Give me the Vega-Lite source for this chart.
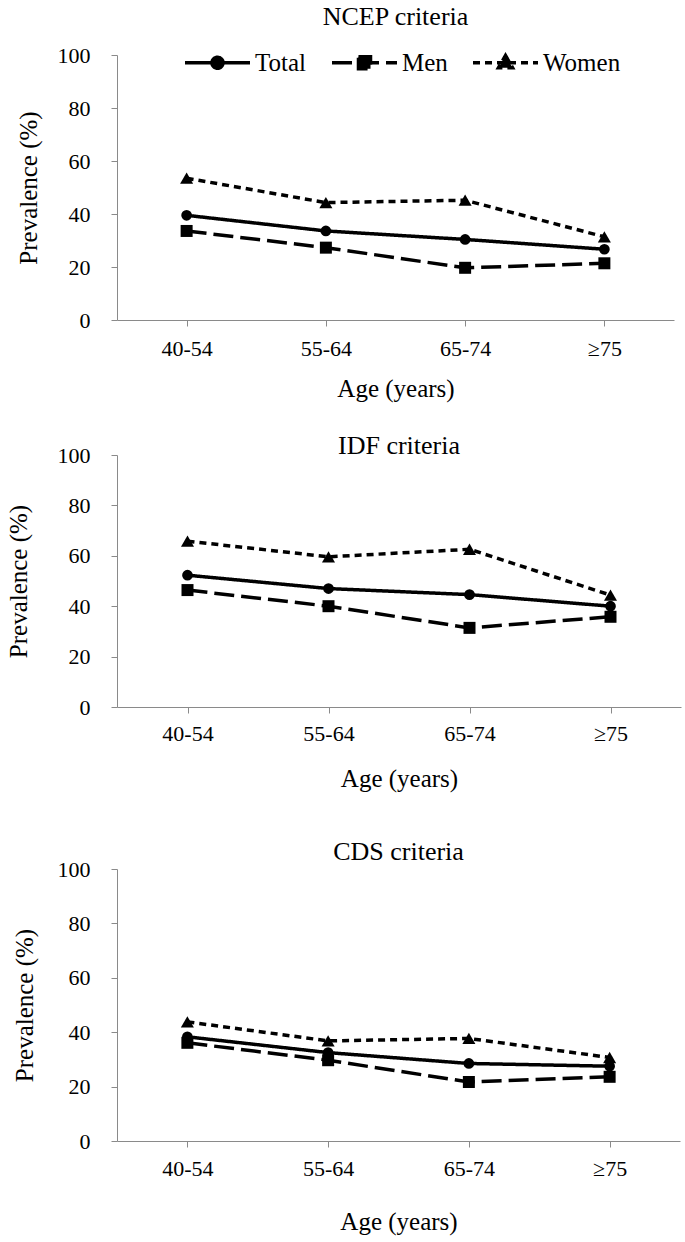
{
  "$schema": "https://vega.github.io/schema/vega-lite/v6.json",
  "padding": {"left": 6, "top": 4, "right": 6, "bottom": 4},
  "background": "white",
  "config": {
    "font": "Liberation Serif",
    "view": {"stroke": null},
    "axis": {"labelFont": "Liberation Serif", "titleFont": "Liberation Serif", "labelColor": "#000", "titleColor": "#000", "titleFontWeight": "normal", "domainColor": "#8a8a8a", "tickColor": "#8a8a8a", "grid": false, "labelFontSize": 22, "titleFontSize": 25},
    "legend": {"labelFont": "Liberation Serif", "titleFont": "Liberation Serif"},
    "title": {"font": "Liberation Serif", "fontSize": 26, "fontWeight": "normal", "color": "#000", "anchor": "middle"},
    "concat": {"spacing": 32}
  },
  "datasets": {
    "d": [
      {"criteria": "NCEP", "group": "Total", "age": "40-54", "value": 39.5},
      {"criteria": "NCEP", "group": "Total", "age": "55-64", "value": 33.6},
      {"criteria": "NCEP", "group": "Total", "age": "65-74", "value": 30.4},
      {"criteria": "NCEP", "group": "Total", "age": "≥75", "value": 26.7},
      {"criteria": "NCEP", "group": "Men", "age": "40-54", "value": 33.6},
      {"criteria": "NCEP", "group": "Men", "age": "55-64", "value": 27.3},
      {"criteria": "NCEP", "group": "Men", "age": "65-74", "value": 19.7},
      {"criteria": "NCEP", "group": "Men", "age": "≥75", "value": 21.4},
      {"criteria": "NCEP", "group": "Women", "age": "40-54", "value": 53.5},
      {"criteria": "NCEP", "group": "Women", "age": "55-64", "value": 44.3},
      {"criteria": "NCEP", "group": "Women", "age": "65-74", "value": 45.2},
      {"criteria": "NCEP", "group": "Women", "age": "≥75", "value": 31.4},
      {"criteria": "IDF", "group": "Total", "age": "40-54", "value": 52.3},
      {"criteria": "IDF", "group": "Total", "age": "55-64", "value": 47.0},
      {"criteria": "IDF", "group": "Total", "age": "65-74", "value": 44.6},
      {"criteria": "IDF", "group": "Total", "age": "≥75", "value": 40.0},
      {"criteria": "IDF", "group": "Men", "age": "40-54", "value": 46.4},
      {"criteria": "IDF", "group": "Men", "age": "55-64", "value": 40.0},
      {"criteria": "IDF", "group": "Men", "age": "65-74", "value": 31.4},
      {"criteria": "IDF", "group": "Men", "age": "≥75", "value": 35.8},
      {"criteria": "IDF", "group": "Women", "age": "40-54", "value": 65.8},
      {"criteria": "IDF", "group": "Women", "age": "55-64", "value": 59.6},
      {"criteria": "IDF", "group": "Women", "age": "65-74", "value": 62.6},
      {"criteria": "IDF", "group": "Women", "age": "≥75", "value": 44.4},
      {"criteria": "CDS", "group": "Total", "age": "40-54", "value": 38.3},
      {"criteria": "CDS", "group": "Total", "age": "55-64", "value": 32.5},
      {"criteria": "CDS", "group": "Total", "age": "65-74", "value": 28.5},
      {"criteria": "CDS", "group": "Total", "age": "≥75", "value": 27.5},
      {"criteria": "CDS", "group": "Men", "age": "40-54", "value": 36.1},
      {"criteria": "CDS", "group": "Men", "age": "55-64", "value": 29.7},
      {"criteria": "CDS", "group": "Men", "age": "65-74", "value": 21.7},
      {"criteria": "CDS", "group": "Men", "age": "≥75", "value": 23.6},
      {"criteria": "CDS", "group": "Women", "age": "40-54", "value": 43.8},
      {"criteria": "CDS", "group": "Women", "age": "55-64", "value": 36.8},
      {"criteria": "CDS", "group": "Women", "age": "65-74", "value": 37.7},
      {"criteria": "CDS", "group": "Women", "age": "≥75", "value": 30.7}
    ]
  },
  "vconcat": [
    {
      "title": {"text": "NCEP criteria", "offset": -2, "font": "Liberation Serif"},
      "width": 557, "height": 265,
      "data": {"name": "d"},
      "transform": [{"filter": "datum.criteria === 'NCEP'"}],
      "encoding": {
        "x": {"field": "age", "type": "nominal", "sort": ["40-54", "55-64", "65-74", "≥75"], "scale": {"type": "point", "padding": 0.5}, "axis": {"title": "Age (years)", "labelFont": "Liberation Serif", "titleFont": "Liberation Serif", "labelAngle": 0, "tickSize": 6, "labelPadding": 12, "titlePadding": 17}},
        "y": {"field": "value", "type": "quantitative", "scale": {"domain": [0, 100]}, "axis": {"title": "Prevalence (%)", "labelFont": "Liberation Serif", "titleFont": "Liberation Serif", "values": [0, 20, 40, 60, 80, 100], "tickSize": 6, "labelPadding": 21, "titlePadding": 16}}
      },
      "layer": [
        {
          "mark": {"type": "line", "color": "black", "strokeWidth": 3.5},
          "encoding": {
            "strokeDash": {"field": "group", "type": "nominal", "scale": {"domain": ["Total", "Men", "Women"], "range": [[1, 0], [20, 7], [7, 5]]},
              "legend": {"orient": "none", "legendX": 66, "legendY": -27, "direction": "horizontal", "title": null, "padding": 0, "symbolSize": 4225, "symbolStrokeWidth": 3.5, "symbolStrokeColor": "black", "symbolFillColor": "black", "labelFontSize": 25, "labelFont": "Liberation Serif", "labelColor": "#000", "labelOffset": 3, "columnPadding": 18,
                "encode": {"symbols": {"update": {
                  "shape": {"signal": "datum.value === 'Total' ? 'M-1,0L1,0M0.17,0A0.17,0.17,0,1,1,-0.17,0A0.17,0.17,0,1,1,0.17,0Z' : datum.value === 'Men' ? 'M-1,0L1,0M-0.185,-0.185L0.185,-0.185L0.185,0.185L-0.185,0.185Z' : 'M-1,0L1,0M0,-0.22L0.215,0.15L-0.215,0.15Z'"},
                  "size": {"value": 4225},
                  "fill": {"value": "black"}, "stroke": {"value": "black"}, "strokeWidth": {"value": 3.5}, "opacity": {"value": 1}, "strokeOpacity": {"value": 1}, "fillOpacity": {"value": 1}}}}}}
          }
        },
        {"transform": [{"filter": "datum.group === 'Total'"}], "mark": {"type": "point", "shape": "circle", "size": 115, "filled": true, "color": "black", "opacity": 1}},
        {"transform": [{"filter": "datum.group === 'Men'"}], "mark": {"type": "point", "shape": "square", "size": 144, "filled": true, "color": "black", "opacity": 1}},
        {"transform": [{"filter": "datum.group === 'Women'"}], "mark": {"type": "point", "shape": "triangle-up", "size": 170, "filled": true, "color": "black", "opacity": 1}}
      ]
    },
    {
      "title": {"text": "IDF criteria", "offset": -15, "font": "Liberation Serif"},
      "width": 564, "height": 252,
      "data": {"name": "d"},
      "transform": [{"filter": "datum.criteria === 'IDF'"}],
      "encoding": {
        "x": {"field": "age", "type": "nominal", "sort": ["40-54", "55-64", "65-74", "≥75"], "scale": {"type": "point", "padding": 0.5}, "axis": {"title": "Age (years)", "labelFont": "Liberation Serif", "titleFont": "Liberation Serif", "labelAngle": 0, "tickSize": 6, "labelPadding": 10, "titlePadding": 22}},
        "y": {"field": "value", "type": "quantitative", "scale": {"domain": [0, 100]}, "axis": {"title": "Prevalence (%)", "labelFont": "Liberation Serif", "titleFont": "Liberation Serif", "values": [0, 20, 40, 60, 80, 100], "tickSize": 6, "labelPadding": 21, "titlePadding": 26}}
      },
      "layer": [
        {
          "mark": {"type": "line", "color": "black", "strokeWidth": 3.5},
          "encoding": {
            "strokeDash": {"field": "group", "type": "nominal", "scale": {"domain": ["Total", "Men", "Women"], "range": [[1, 0], [20, 7], [7, 5]]}, "legend": null}
          }
        },
        {"transform": [{"filter": "datum.group === 'Total'"}], "mark": {"type": "point", "shape": "circle", "size": 115, "filled": true, "color": "black", "opacity": 1}},
        {"transform": [{"filter": "datum.group === 'Men'"}], "mark": {"type": "point", "shape": "square", "size": 144, "filled": true, "color": "black", "opacity": 1}},
        {"transform": [{"filter": "datum.group === 'Women'"}], "mark": {"type": "point", "shape": "triangle-up", "size": 170, "filled": true, "color": "black", "opacity": 1}}
      ]
    },
    {
      "title": {"text": [" ", "CDS criteria"], "offset": -7, "lineHeight": 16, "font": "Liberation Serif"},
      "width": 563, "height": 272,
      "data": {"name": "d"},
      "transform": [{"filter": "datum.criteria === 'CDS'"}],
      "encoding": {
        "x": {"field": "age", "type": "nominal", "sort": ["40-54", "55-64", "65-74", "≥75"], "scale": {"type": "point", "padding": 0.5}, "axis": {"title": "Age (years)", "labelFont": "Liberation Serif", "titleFont": "Liberation Serif", "labelAngle": 0, "tickSize": 6, "labelPadding": 11, "titlePadding": 30}},
        "y": {"field": "value", "type": "quantitative", "scale": {"domain": [0, 100]}, "axis": {"title": "Prevalence (%)", "labelFont": "Liberation Serif", "titleFont": "Liberation Serif", "values": [0, 20, 40, 60, 80, 100], "tickSize": 6, "labelPadding": 21, "titlePadding": 20}}
      },
      "layer": [
        {
          "mark": {"type": "line", "color": "black", "strokeWidth": 3.5},
          "encoding": {
            "strokeDash": {"field": "group", "type": "nominal", "scale": {"domain": ["Total", "Men", "Women"], "range": [[1, 0], [20, 7], [7, 5]]}, "legend": null}
          }
        },
        {"transform": [{"filter": "datum.group === 'Total'"}], "mark": {"type": "point", "shape": "circle", "size": 115, "filled": true, "color": "black", "opacity": 1}},
        {"transform": [{"filter": "datum.group === 'Men'"}], "mark": {"type": "point", "shape": "square", "size": 144, "filled": true, "color": "black", "opacity": 1}},
        {"transform": [{"filter": "datum.group === 'Women'"}], "mark": {"type": "point", "shape": "triangle-up", "size": 170, "filled": true, "color": "black", "opacity": 1}}
      ]
    }
  ],
  "resolve": {"scale": {"strokeDash": "independent"}, "legend": {"strokeDash": "independent"}}
}
